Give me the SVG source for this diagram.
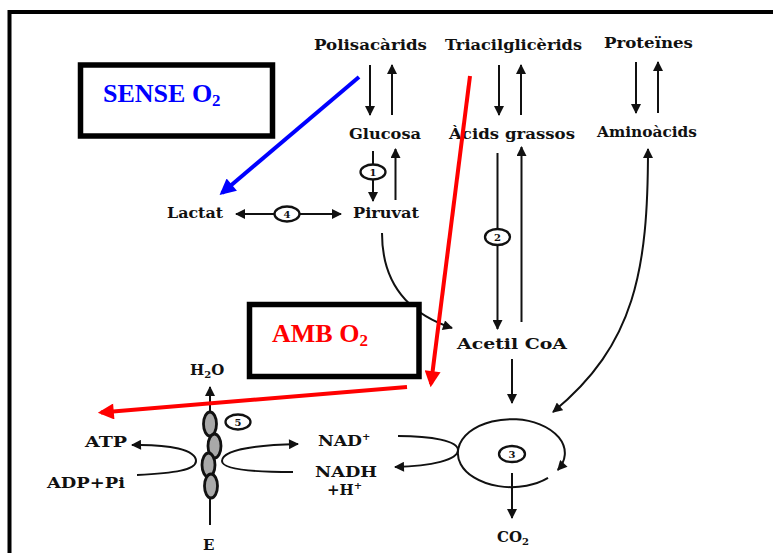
<svg xmlns="http://www.w3.org/2000/svg" width="773" height="553" viewBox="0 0 773 553">
<style>
.lbl{font-family:"DejaVu Serif","Liberation Serif",serif;font-weight:bold;font-size:15px;fill:#111}
.num{font-family:"DejaVu Serif","Liberation Serif",serif;font-weight:bold;font-size:10px;fill:#111;text-anchor:middle}
.ln{fill:none;stroke:#111;stroke-width:2}
.arr{marker-end:url(#ah)}
.oval{fill:#fff;stroke:#111;stroke-width:2.3}
.chain{fill:#a9a9a9;stroke:#111;stroke-width:2.8}
.box{fill:#fff;stroke:#000;stroke-width:5.5}
.big{font-family:"Liberation Serif","Times New Roman",serif;font-weight:bold;font-size:26px}
</style>
<defs>
<marker id="ah" viewBox="0 0 10 10" refX="9" refY="5" markerWidth="11" markerHeight="10" markerUnits="userSpaceOnUse" orient="auto-start-reverse"><path d="M0,0 L10,5 L0,10 z" fill="#111"/></marker>
<marker id="ahr" viewBox="0 0 10 10" refX="8" refY="5" markerWidth="17" markerHeight="16" markerUnits="userSpaceOnUse" orient="auto"><path d="M0,0 L10,5 L0,10 z" fill="#f00"/></marker>
<marker id="ahb" viewBox="0 0 10 10" refX="8" refY="5" markerWidth="19" markerHeight="16" markerUnits="userSpaceOnUse" orient="auto"><path d="M0,0 L10,5 L0,10 z" fill="#00f"/></marker>
</defs>
<rect width="773" height="553" fill="#fff"/>
<rect id="frame" x="9.5" y="12" width="900" height="700" fill="none" stroke="#000" stroke-width="4"/>

<g id="connectors">
<line class="ln arr" x1="370" y1="65" x2="370" y2="115"/>
<line class="ln arr" x1="392" y1="115" x2="392" y2="65"/>
<line class="ln arr" x1="499" y1="65" x2="499" y2="115"/>
<line class="ln arr" x1="521" y1="115" x2="521" y2="65"/>
<line class="ln arr" x1="636" y1="62" x2="636" y2="113"/>
<line class="ln arr" x1="658" y1="113" x2="658" y2="62"/>
<line class="ln arr" x1="373" y1="151" x2="373" y2="201"/>
<line class="ln arr" x1="395.5" y1="200" x2="395.5" y2="149"/>
<line class="ln" x1="236" y1="214" x2="341" y2="214" marker-start="url(#ah)" marker-end="url(#ah)"/>
<line class="ln arr" x1="497.5" y1="153" x2="497.5" y2="329"/>
<line class="ln arr" x1="521.5" y1="322" x2="521.5" y2="147"/>
<path class="ln arr" d="M382,233 C382,285 410,314 452,328"/>
<line class="ln arr" x1="512" y1="359" x2="512" y2="403"/>
<path class="ln" d="M648,149 C648,270 635,345 553,412" marker-start="url(#ah)" marker-end="url(#ah)"/>
<path class="ln arr" d="M548,477.9 A53.5,34 0 1 1 557.8,470"/>
<line class="ln arr" x1="512" y1="473" x2="512" y2="518"/>
<path class="ln arr" d="M398,436 C432,436 458,441 458,450 C458,460 432,466 395,467"/>
<path class="ln arr" d="M137,475 C175,473 196,470 196,461 C196,450 170,444 132,445"/>
<path class="ln arr" d="M293,472 C250,472 222,469 222,461 C222,450 255,445 298,444"/>
<line class="ln arr" x1="210" y1="525" x2="210" y2="387"/>
</g>

<g id="chain">
<ellipse class="chain" cx="210" cy="424" rx="6.5" ry="12"/>
<ellipse class="chain" cx="214.5" cy="446" rx="6.5" ry="12"/>
<ellipse class="chain" cx="208.5" cy="465" rx="6.5" ry="12"/>
<ellipse class="chain" cx="211" cy="486" rx="6.5" ry="12"/>
</g>

<g id="step1"><ellipse class="oval" cx="373" cy="172" rx="12.5" ry="7.5"/><text class="num" x="373" y="175.5">1</text></g>
<g id="step2"><ellipse class="oval" cx="497.5" cy="237" rx="12.5" ry="8"/><text class="num" x="497.5" y="240.5">2</text></g>
<g id="step3"><ellipse class="oval" cx="512" cy="454" rx="13" ry="8"/><text class="num" x="512" y="457.5">3</text></g>
<g id="step4"><ellipse class="oval" cx="287" cy="214" rx="12.5" ry="7.5"/><text class="num" x="287" y="217.5">4</text></g>
<g id="step5"><ellipse class="oval" cx="238" cy="422" rx="12.5" ry="7.5"/><text class="num" x="238" y="425.5">5</text></g>

<g id="polisacarids"><text class="lbl" x="314" y="50" textLength="113" lengthAdjust="spacingAndGlyphs">Polisacàrids</text></g>
<g id="triacilglicerids"><text class="lbl" x="445" y="50" textLength="137" lengthAdjust="spacingAndGlyphs">Triacilglicèrids</text></g>
<g id="proteines"><text class="lbl" x="604" y="48" textLength="89" lengthAdjust="spacingAndGlyphs">Proteïnes</text></g>
<g id="glucosa"><text class="lbl" x="349" y="139" textLength="72" lengthAdjust="spacingAndGlyphs">Glucosa</text></g>
<g id="acids-grassos"><text class="lbl" x="449" y="139" textLength="126" lengthAdjust="spacingAndGlyphs">Àcids grassos</text></g>
<g id="aminoacids"><text class="lbl" x="597" y="137" textLength="100" lengthAdjust="spacingAndGlyphs">Aminoàcids</text></g>
<g id="lactat"><text class="lbl" x="167" y="218" textLength="56" lengthAdjust="spacingAndGlyphs">Lactat</text></g>
<g id="piruvat"><text class="lbl" x="353" y="218" textLength="66" lengthAdjust="spacingAndGlyphs">Piruvat</text></g>
<g id="acetil-coa"><text class="lbl" x="457" y="349" textLength="110" lengthAdjust="spacingAndGlyphs">Acetil CoA</text></g>
<g id="h2o"><text class="lbl" x="190" y="375">H<tspan font-size="10" dy="3">2</tspan><tspan dy="-3">O</tspan></text></g>
<g id="atp"><text class="lbl" x="85" y="447" textLength="42" lengthAdjust="spacingAndGlyphs">ATP</text></g>
<g id="adp"><text class="lbl" x="47" y="488" textLength="78" lengthAdjust="spacingAndGlyphs">ADP+Pi</text></g>
<g id="nad"><text class="lbl" x="318" y="446"><tspan textLength="44" lengthAdjust="spacingAndGlyphs">NAD</tspan><tspan font-size="10" dy="-6">+</tspan></text></g>
<g id="nadh"><text class="lbl" x="315" y="477" textLength="62" lengthAdjust="spacingAndGlyphs">NADH</text><text class="lbl" x="327" y="495">+H<tspan font-size="10" dy="-6">+</tspan></text></g>
<g id="e"><text class="lbl" x="203" y="550">E</text></g>
<g id="co2"><text class="lbl" x="497" y="542">CO<tspan font-size="10" dy="3">2</tspan></text></g>

<g id="sense-o2">
<rect class="box" x="80.5" y="65" width="192" height="71"/>
<text class="big" x="103" y="102" fill="#00f">SENSE O<tspan font-size="17" dy="4">2</tspan></text>
</g>
<g id="amb-o2">
<rect class="box" x="249.5" y="304.5" width="169.5" height="72"/>
<text class="big" x="272" y="342" fill="#f00">AMB O<tspan font-size="17" dy="4">2</tspan></text>
</g>

<g id="overlay-arrows">
<line x1="359" y1="77" x2="222" y2="193" stroke="#00f" stroke-width="4" marker-end="url(#ahb)"/>
<line x1="470" y1="76" x2="431" y2="384" stroke="#f00" stroke-width="4" marker-end="url(#ahr)"/>
<line x1="407" y1="387" x2="101" y2="412.5" stroke="#f00" stroke-width="4" marker-end="url(#ahr)"/>
</g>
</svg>
